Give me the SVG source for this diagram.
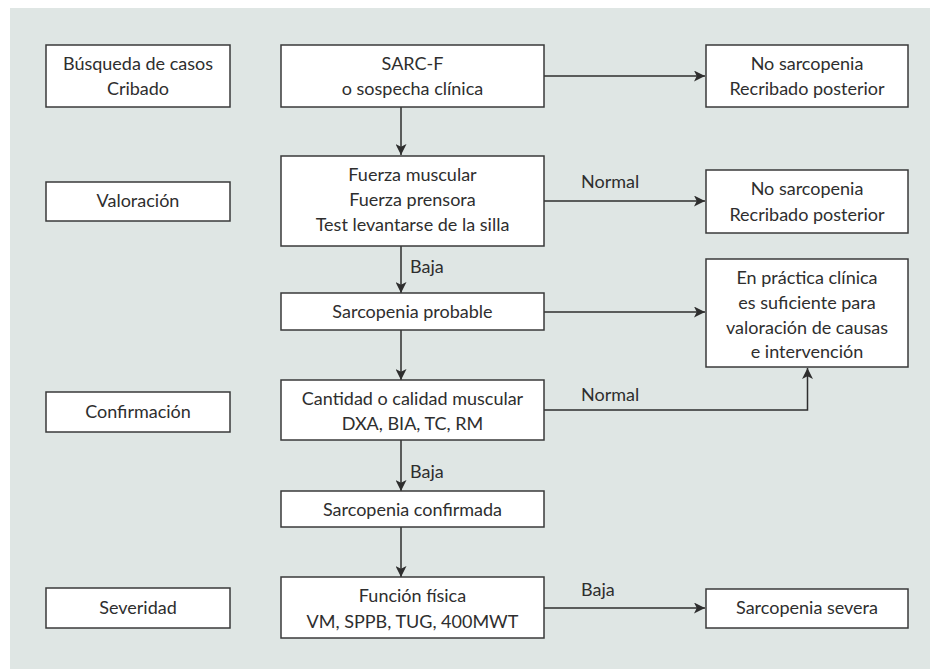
<svg xmlns="http://www.w3.org/2000/svg" width="930" height="669" viewBox="0 0 930 669">
<style>
.box{fill:#fff;stroke:#3a3a3a;stroke-width:1.5}
.t{font-family:Lato,"Open Sans",sans-serif;font-size:18px;fill:#2e2e2e;text-anchor:middle}
.l{font-family:Lato,"Open Sans",sans-serif;font-size:18px;fill:#2e2e2e}
.c{fill:none;stroke:#2e2e2e;stroke-width:1.5}
</style>
<defs>
<marker id="ah" viewBox="0 0 10 10" refX="10" refY="5" markerWidth="11" markerHeight="11" markerUnits="userSpaceOnUse" orient="auto">
<path d="M0,0 L10,5 L0,10 L2.5,5 Z" fill="#2e2e2e"/>
</marker>
</defs>
<rect x="0" y="0" width="930" height="669" fill="#fff"/>
<rect x="10" y="8" width="920" height="661" fill="#dfe6e4"/>
<g id="connectors">
<path class="c" d="M544,76 H705" marker-end="url(#ah)"/>
<path class="c" d="M401,107 V155" marker-end="url(#ah)"/>
<path class="c" d="M544,201 H705" marker-end="url(#ah)"/>
<path class="c" d="M401,246 V293" marker-end="url(#ah)"/>
<path class="c" d="M544,312 H705" marker-end="url(#ah)"/>
<path class="c" d="M401,330 V380" marker-end="url(#ah)"/>
<path class="c" d="M544,410 H807.5 V368" marker-end="url(#ah)"/>
<path class="c" d="M401,440 V491" marker-end="url(#ah)"/>
<path class="c" d="M401,527 V577" marker-end="url(#ah)"/>
<path class="c" d="M544,608 H705" marker-end="url(#ah)"/>
<text class="l" x="581" y="188">Normal</text>
<text class="l" x="410" y="273">Baja</text>
<text class="l" x="581" y="401">Normal</text>
<text class="l" x="410" y="478">Baja</text>
<text class="l" x="581" y="596">Baja</text>
</g>
<g id="n-busqueda"><rect class="box" x="46" y="45" width="184" height="62"/><text class="t" x="138" y="69.5">Búsqueda de casos</text><text class="t" x="138" y="95">Cribado</text></g>
<g id="n-valoracion"><rect class="box" x="46" y="182" width="184" height="39"/><text class="t" x="138" y="207">Valoración</text></g>
<g id="n-confirmacion"><rect class="box" x="46" y="392" width="184" height="40"/><text class="t" x="138" y="418">Confirmación</text></g>
<g id="n-severidad"><rect class="box" x="46" y="588" width="184" height="40"/><text class="t" x="138" y="614">Severidad</text></g>
<g id="n-sarcf"><rect class="box" x="281" y="45" width="263" height="62"/><text class="t" x="412.5" y="69.5">SARC-F</text><text class="t" x="412.5" y="95">o sospecha clínica</text></g>
<g id="n-fuerza"><rect class="box" x="281" y="156" width="263" height="90"/><text class="t" x="412.5" y="181">Fuerza muscular</text><text class="t" x="412.5" y="206">Fuerza prensora</text><text class="t" x="412.5" y="231">Test levantarse de la silla</text></g>
<g id="n-probable"><rect class="box" x="281" y="293" width="263" height="37"/><text class="t" x="412.5" y="318">Sarcopenia probable</text></g>
<g id="n-cantidad"><rect class="box" x="281" y="380" width="263" height="60"/><text class="t" x="412.5" y="405">Cantidad o calidad muscular</text><text class="t" x="412.5" y="430">DXA, BIA, TC, RM</text></g>
<g id="n-confirmada"><rect class="box" x="281" y="491" width="263" height="36"/><text class="t" x="412.5" y="515.5">Sarcopenia confirmada</text></g>
<g id="n-funcion"><rect class="box" x="281" y="577" width="263" height="61"/><text class="t" x="412.5" y="602">Función física</text><text class="t" x="412.5" y="628">VM, SPPB, TUG, 400MWT</text></g>
<g id="n-nosarc1"><rect class="box" x="706" y="45" width="202" height="62"/><text class="t" x="807" y="69.5">No sarcopenia</text><text class="t" x="807" y="95">Recribado posterior</text></g>
<g id="n-nosarc2"><rect class="box" x="706" y="170" width="202" height="63"/><text class="t" x="807" y="195">No sarcopenia</text><text class="t" x="807" y="221">Recribado posterior</text></g>
<g id="n-practica"><rect class="box" x="706" y="259" width="202" height="108"/><text class="t" x="807" y="284">En práctica clínica</text><text class="t" x="807" y="309">es suficiente para</text><text class="t" x="807" y="334">valoración de causas</text><text class="t" x="807" y="358">e intervención</text></g>
<g id="n-severa"><rect class="box" x="706" y="589" width="202" height="39"/><text class="t" x="807" y="614">Sarcopenia severa</text></g>
</svg>
